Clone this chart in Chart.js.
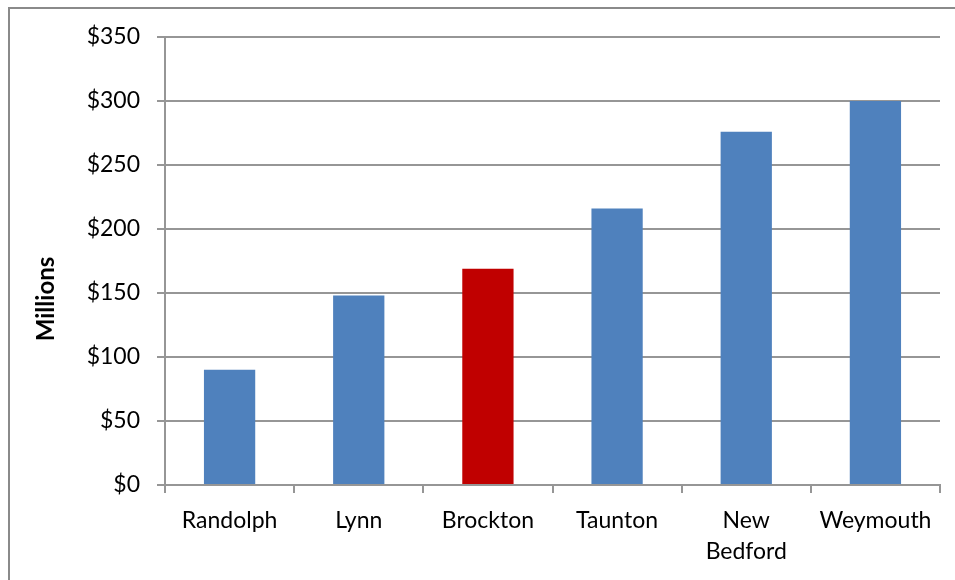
<!DOCTYPE html>
<html>
<head>
<meta charset="utf-8">
<script src="https://cdn.jsdelivr.net/npm/chart.js@4/dist/chart.umd.min.js"></script>
<style>
  html, body { margin: 0; padding: 0; background: #ffffff; }
  #wrap { width: 955px; height: 580px; position: relative; }
</style>
</head>
<body>
<div id="wrap"><canvas id="c" width="955" height="580"></canvas></div>
<script>
const categories = ["Randolph", "Lynn", "Brockton", "Taunton", ["New", "Bedford"], "Weymouth"];
const values = [90, 148, 169, 216, 276, 300];
const barColors = ["#4F81BD", "#4F81BD", "#C00000", "#4F81BD", "#4F81BD", "#4F81BD"];
const yTickValues = [0, 50, 100, 150, 200, 250, 300, 350];
const yAxisTitle = "Millions";

const FONT = "Lato, 'Open Sans', sans-serif";

const framePlugin = {
  id: 'frame',
  beforeDraw(chart) {
    const ctx = chart.ctx;
    ctx.save();
    ctx.fillStyle = '#ffffff';
    ctx.fillRect(0, 0, chart.width, chart.height);
    ctx.strokeStyle = '#8a8a8a';
    ctx.lineWidth = 2;
    ctx.strokeRect(9, 8, 2000, 2000);
    ctx.restore();
  },
  afterDraw(chart) {
    const ctx = chart.ctx;
    ctx.save();
    ctx.translate(46, 299);
    ctx.rotate(-Math.PI / 2);
    ctx.font = "bold 24px " + FONT;
    ctx.fillStyle = '#000000';
    ctx.textAlign = 'center';
    ctx.textBaseline = 'middle';
    ctx.fillText(yAxisTitle, 0, 0);
    ctx.restore();
  }
};

new Chart(document.getElementById('c'), {
  type: 'bar',
  data: {
    labels: categories,
    datasets: [{
      data: values,
      backgroundColor: barColors,
      borderWidth: 0,
      barPercentage: 0.397,
      categoryPercentage: 1.0
    }]
  },
  options: {
    responsive: false,
    animation: false,
    devicePixelRatio: 1,
    layout: { padding: { top: 37, right: 15, left: 0, bottom: 0 } },
    plugins: {
      legend: { display: false },
      title: { display: false },
      tooltip: { enabled: false }
    },
    scales: {
      x: {
        offset: true,
        grid: {
          offset: true,
          drawOnChartArea: false,
          drawTicks: true,
          tickLength: 8,
          color: '#969696',
          lineWidth: 2
        },
        border: { color: '#969696', width: 2 },
        ticks: {
          color: '#000000',
          font: { family: FONT, size: 23, lineHeight: 1.35 },
          padding: 12,
          maxRotation: 0,
          autoSkip: false
        },
        afterFit(scale) { scale.height = 95; }
      },
      y: {
        min: 0,
        max: 350,
        afterBuildTicks(scale) {
          scale.ticks = yTickValues.map(v => ({ value: v }));
        },
        grid: {
          color: '#969696',
          lineWidth: 2,
          drawTicks: true,
          tickLength: 8
        },
        border: { color: '#969696', width: 2 },
        ticks: {
          color: '#000000',
          font: { family: FONT, size: 23 },
          padding: 17,
          callback: v => '$' + v
        },
        afterFit(scale) { scale.width = 165; }
      }
    }
  },
  plugins: [framePlugin]
});
</script>
</body>
</html>
